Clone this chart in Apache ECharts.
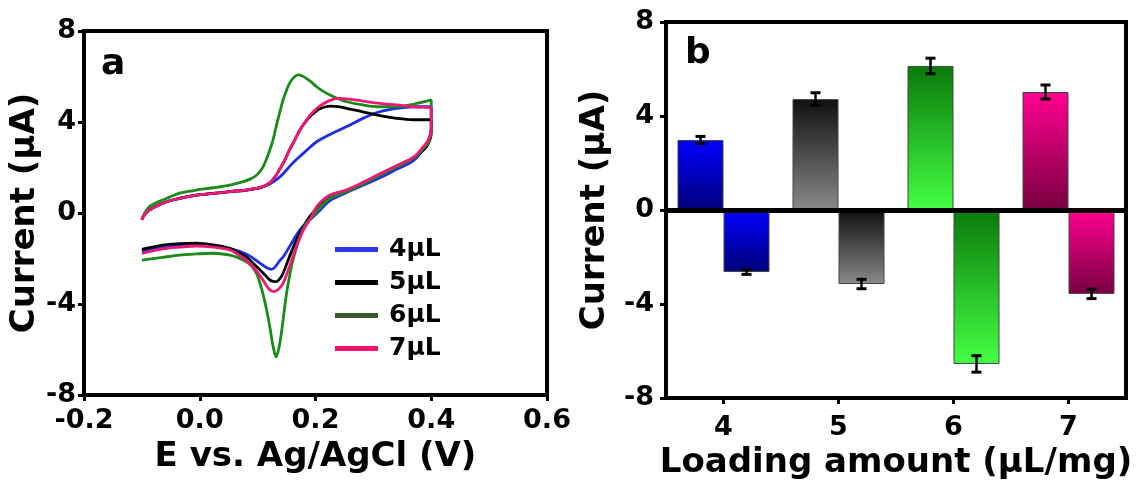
<!DOCTYPE html>
<html>
<head>
<meta charset="utf-8">
<script src="https://cdn.jsdelivr.net/npm/echarts@6/dist/echarts.min.js"></script>
<style>html,body{margin:0;padding:0;background:#fff}#c{width:1138px;height:492px}</style>
</head>
<body>
<div id="c"></div>
<script>
// ---------- Data: panel a (CV curves, [E (V), I (uA)]) ----------
const cvNames = ['4μL', '5μL', '6μL', '7μL'];
const cv4 = [[-0.1,-0.3],[-0.095,-0.05],[-0.087,0.13],[-0.075,0.3],[-0.064,0.43],[-0.05,0.55],[-0.035,0.64],[-0.02,0.72],[-0.006,0.79],[0.023,0.86],[0.052,0.94],[0.08,1.0],[0.1,1.08],[0.109,1.15],[0.12,1.26],[0.132,1.45],[0.145,1.75],[0.155,2.04],[0.167,2.35],[0.179,2.62],[0.19,2.88],[0.202,3.13],[0.225,3.45],[0.254,3.8],[0.282,4.16],[0.311,4.45],[0.34,4.6],[0.369,4.67],[0.4,4.68],
  [0.4,3.7],[0.395,3.2],[0.386,2.8],[0.369,2.3],[0.34,1.92],[0.311,1.55],[0.282,1.22],[0.254,0.9],[0.225,0.55],[0.207,0.1],[0.19,-0.31],[0.173,-0.75],[0.155,-1.48],[0.145,-1.9],[0.138,-2.1],[0.13,-2.38],[0.124,-2.48],[0.115,-2.4],[0.104,-2.2],[0.09,-1.95],[0.08,-1.8],[0.052,-1.57],[0.023,-1.44],[-0.006,-1.4],[-0.035,-1.44],[-0.064,-1.52],[-0.1,-1.7]];
const cv5 = [[-0.1,-0.3],[-0.095,-0.05],[-0.087,0.13],[-0.075,0.3],[-0.064,0.43],[-0.05,0.55],[-0.035,0.64],[-0.02,0.72],[-0.006,0.79],[0.023,0.86],[0.052,0.94],[0.08,1.01],[0.098,1.08],[0.108,1.15],[0.116,1.24],[0.124,1.4],[0.131,1.62],[0.138,1.92],[0.147,2.32],[0.155,2.77],[0.164,3.2],[0.173,3.65],[0.182,3.98],[0.19,4.23],[0.2,4.45],[0.207,4.58],[0.225,4.7],[0.24,4.68],[0.254,4.6],[0.282,4.45],[0.311,4.28],[0.34,4.16],[0.369,4.1],[0.4,4.1],
  [0.4,3.5],[0.396,3.1],[0.388,2.8],[0.369,2.42],[0.34,2.05],[0.311,1.68],[0.282,1.3],[0.254,0.98],[0.225,0.72],[0.21,0.45],[0.202,0.2],[0.19,-0.16],[0.179,-0.6],[0.167,-1.19],[0.155,-1.92],[0.144,-2.65],[0.138,-2.9],[0.132,-3.02],[0.126,-3.0],[0.121,-2.94],[0.112,-2.7],[0.104,-2.5],[0.092,-2.2],[0.08,-1.92],[0.065,-1.7],[0.052,-1.55],[0.023,-1.4],[-0.006,-1.33],[-0.035,-1.35],[-0.064,-1.41],[-0.1,-1.6]];
const cv6 = [[-0.1,-0.28],[-0.095,0.0],[-0.087,0.28],[-0.075,0.45],[-0.064,0.57],[-0.05,0.72],[-0.035,0.87],[-0.02,0.95],[-0.006,1.01],[0.023,1.11],[0.052,1.23],[0.075,1.38],[0.088,1.5],[0.098,1.66],[0.105,1.85],[0.11,2.06],[0.115,2.35],[0.121,2.77],[0.127,3.25],[0.132,3.8],[0.138,4.4],[0.144,4.97],[0.15,5.4],[0.155,5.7],[0.162,5.95],[0.17,6.07],[0.177,6.02],[0.184,5.92],[0.193,5.75],[0.202,5.55],[0.212,5.37],[0.225,5.19],[0.24,5.02],[0.254,4.89],[0.282,4.75],[0.311,4.67],[0.34,4.67],[0.369,4.78],[0.4,4.97],
  [0.4,3.6],[0.396,3.15],[0.386,2.82],[0.369,2.4],[0.34,2.02],[0.311,1.65],[0.282,1.28],[0.254,0.95],[0.225,0.65],[0.212,0.35],[0.202,0.06],[0.193,-0.22],[0.184,-0.45],[0.173,-1.04],[0.161,-2.07],[0.155,-2.8],[0.15,-3.53],[0.145,-4.5],[0.141,-5.29],[0.137,-5.9],[0.132,-6.32],[0.127,-5.9],[0.121,-5.0],[0.115,-4.2],[0.109,-3.53],[0.103,-3.0],[0.098,-2.65],[0.09,-2.35],[0.08,-2.14],[0.065,-1.95],[0.052,-1.85],[0.023,-1.77],[-0.006,-1.8],[-0.035,-1.85],[-0.064,-1.95],[-0.1,-2.07]];
const cv7 = [[-0.1,-0.3],[-0.095,-0.05],[-0.087,0.13],[-0.075,0.3],[-0.064,0.43],[-0.05,0.55],[-0.035,0.64],[-0.02,0.72],[-0.006,0.79],[0.023,0.86],[0.052,0.94],[0.08,1.01],[0.098,1.08],[0.108,1.15],[0.116,1.24],[0.124,1.4],[0.131,1.62],[0.138,1.92],[0.147,2.32],[0.155,2.77],[0.164,3.2],[0.173,3.65],[0.182,4.0],[0.19,4.28],[0.2,4.55],[0.207,4.7],[0.225,4.95],[0.24,5.04],[0.254,5.02],[0.282,4.92],[0.311,4.82],[0.34,4.75],[0.369,4.67],[0.4,4.6],
  [0.4,3.7],[0.396,3.25],[0.386,2.9],[0.369,2.45],[0.34,2.08],[0.311,1.72],[0.282,1.35],[0.254,1.02],[0.225,0.79],[0.21,0.5],[0.2,0.2],[0.193,-0.16],[0.179,-0.75],[0.167,-1.48],[0.155,-2.36],[0.144,-3.09],[0.136,-3.35],[0.128,-3.46],[0.12,-3.35],[0.109,-2.94],[0.095,-2.45],[0.08,-2.07],[0.065,-1.8],[0.052,-1.62],[0.023,-1.5],[-0.006,-1.45],[-0.035,-1.5],[-0.064,-1.58],[-0.1,-1.78]];
const cvSeriesData = [cv4, cv5, cv6, cv7];

// ---------- Data: panel b (peak currents) ----------
const categories = ['4', '5', '6', '7'];
const anodicPeak = [2.98, 4.72, 6.13, 5.02];
const anodicErr = [0.15, 0.27, 0.33, 0.30];
const cathodicPeak = [-2.64, -3.15, -6.55, -3.57];
const cathodicErr = [0.10, 0.20, 0.35, 0.20];

// ---------- Styles ----------
const FONT = 'DejaVu Sans';
const LINE_COLORS = ['#1f2ce6', '#000000', '#1a8a1a', '#ec1a74'];
const LEGEND_COLORS = ['#2a3ae0', '#000000', '#3b5a2c', '#f0146c'];
const BAR_GRAD = [['#0000ff', '#00007a'], ['#101010', '#8a8a8a'], ['#0b7a0b', '#44ff44'], ['#ff0090', '#780040']];
const BAR_FRAC = 0.4;

function grad(c) {
  return new echarts.graphic.LinearGradient(0, 0, 0, 1, [{offset: 0, color: c[0]}, {offset: 1, color: c[1]}]);
}
const tickLabel = {color: '#000', fontFamily: FONT, fontWeight: 'bold', fontSize: 27};
const nameStyle = {color: '#000', fontFamily: FONT, fontWeight: 'bold', fontSize: 34};
const axLine = {show: true, onZero: false, lineStyle: {color: '#000', width: 4}};
const axTick = {show: true, inside: false, length: 6, lineStyle: {color: '#000', width: 3}};

function errSeries(vals, errs, side) {
  return {
    type: 'custom', xAxisIndex: 1, yAxisIndex: 1, z: 5, silent: true,
    encode: {x: 0, y: 1},
    data: vals.map((v, i) => [i, v, errs[i]]),
    renderItem: function (params, api) {
      const i = api.value(0), v = api.value(1), e = api.value(2);
      const band = api.size([1, 0])[0];
      const dx = side * band * BAR_FRAC / 2;
      const top = api.coord([i, v + e]);
      const bot = api.coord([i, v - e]);
      const x = top[0] + dx, cw = 5;
      return {type: 'group', children: [
        {type: 'line', shape: {x1: x, y1: top[1], x2: x, y2: bot[1]}, style: {stroke: '#000', lineWidth: 2.5}},
        {type: 'line', shape: {x1: x - cw, y1: top[1], x2: x + cw, y2: top[1]}, style: {stroke: '#000', lineWidth: 3}},
        {type: 'line', shape: {x1: x - cw, y1: bot[1], x2: x + cw, y2: bot[1]}, style: {stroke: '#000', lineWidth: 3}}
      ]};
    }
  };
}

const chart = echarts.init(document.getElementById('c'));
const series = [];
cvSeriesData.forEach((d, i) => {
  series.push({
    name: cvNames[i], type: 'line', xAxisIndex: 0, yAxisIndex: 0, data: d,
    showSymbol: false, smooth: 0.35, z: 2 + i,
    lineStyle: {color: LINE_COLORS[i], width: 2.8}, itemStyle: {color: LINE_COLORS[i]}
  });
});
series.push({
  name: 'anodic', type: 'bar', xAxisIndex: 1, yAxisIndex: 1, barWidth: (BAR_FRAC * 100) + '%', barGap: '0%',
  data: anodicPeak.map((v, i) => ({value: v, itemStyle: {color: grad(BAR_GRAD[i])}})),
  itemStyle: {borderColor: '#444', borderWidth: 1},
  markLine: {silent: true, symbol: 'none', label: {show: false}, data: [{yAxis: 0}],
    lineStyle: {color: '#000', width: 5, type: 'solid'}}
});
series.push({
  name: 'cathodic', type: 'bar', xAxisIndex: 1, yAxisIndex: 1, barWidth: (BAR_FRAC * 100) + '%', barGap: '0%',
  data: cathodicPeak.map((v, i) => ({value: v, itemStyle: {color: grad(BAR_GRAD[i])}})),
  itemStyle: {borderColor: '#444', borderWidth: 1}
});
series.push(errSeries(anodicPeak, anodicErr, -1));
series.push(errSeries(cathodicPeak, cathodicErr, 1));

chart.setOption({
  animation: false,
  backgroundColor: '#fff',
  grid: [
    {left: 84, right: 591, top: 31, bottom: 97, show: true, borderColor: '#000', borderWidth: 4, outerBoundsMode: 'none'},
    {left: 666, right: 12, top: 22, bottom: 94, show: true, borderColor: '#000', borderWidth: 4, outerBoundsMode: 'none'}
  ],
  legend: {
    orient: 'vertical', left: 330, top: 232, itemWidth: 43, itemHeight: 5, itemGap: 8, icon: 'rect',
    textStyle: {color: '#000', fontFamily: FONT, fontWeight: 'bold', fontSize: 25, padding: [0, 0, 0, 6]},
    data: cvNames.map((n, i) => ({name: n, itemStyle: {color: LEGEND_COLORS[i]}}))
  },
  xAxis: [
    {gridIndex: 0, type: 'value', min: -0.2, max: 0.6, interval: 0.2,
      name: 'E vs. Ag/AgCl (V)', nameLocation: 'middle', nameGap: 45, nameTextStyle: nameStyle,
      axisLine: axLine, axisTick: axTick, splitLine: {show: false},
      axisLabel: Object.assign({margin: 12, formatter: v => v.toFixed(1)}, tickLabel)},
    {gridIndex: 1, type: 'category', data: categories,
      name: 'Loading amount (μL/mg)', nameLocation: 'middle', nameGap: 40, nameTextStyle: nameStyle,
      axisLine: axLine, axisTick: Object.assign({alignWithLabel: true}, axTick), splitLine: {show: false},
      axisLabel: Object.assign({margin: 16}, tickLabel)}
  ],
  yAxis: [
    {gridIndex: 0, type: 'value', min: -8, max: 8, interval: 4,
      name: 'Current (μA)', nameLocation: 'middle', nameGap: 36, nameRotate: 90, nameTextStyle: nameStyle,
      axisLine: axLine, axisTick: axTick, splitLine: {show: false},
      axisLabel: Object.assign({margin: 8}, tickLabel)},
    {gridIndex: 1, type: 'value', min: -8, max: 8, interval: 4,
      name: 'Current (μA)', nameLocation: 'middle', nameGap: 54, nameRotate: 90, nameTextStyle: nameStyle,
      axisLine: axLine, axisTick: axTick, splitLine: {show: false},
      axisLabel: Object.assign({margin: 12}, tickLabel)}
  ],
  graphic: [
    {type: 'text', left: 101, top: 47, style: {text: 'a', font: 'bold 36px "DejaVu Sans"', fill: '#000'}},
    {type: 'text', left: 685, top: 36, style: {text: 'b', font: 'bold 36px "DejaVu Sans"', fill: '#000'}}
  ],
  series: series
});
</script>
</body>
</html>
